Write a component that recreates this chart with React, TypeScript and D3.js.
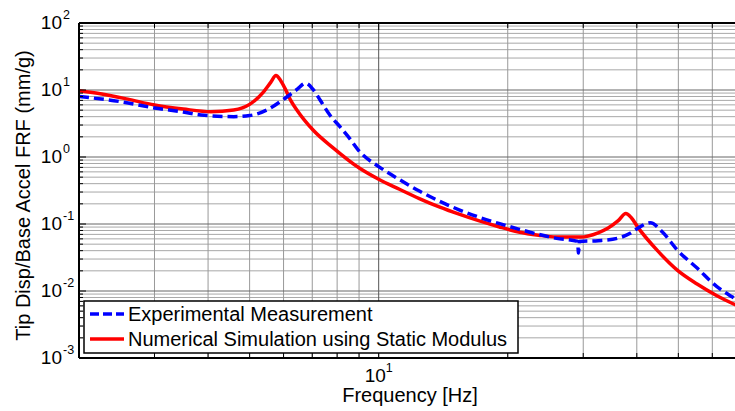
import React from "react";
import * as d3 from "d3";

// Experimental measurement (blue dashed)
const expFreq = [2.0, 2.5, 3.0, 3.5, 3.85, 4.59, 5.0, 5.51, 5.99, 6.46, 6.75, 7.03, 7.3, 7.7, 8.12, 8.5, 9.03, 10, 11.18, 12.44, 13.84, 15.4, 17.1, 19.06, 21.2, 23.6, 26, 29.1, 29.25, 29.4, 32.5, 36.1, 38.5, 40.2, 43.0, 45.9, 49.7, 55.3, 61.5, 66.7, 70];
const expValue = [8.0, 6.7, 5.39, 4.7, 4.24, 4.0, 4.15, 5.1, 7.2, 10.3, 12.6, 10.2, 7.09, 4.2, 2.84, 2.0, 1.2, 0.72, 0.46, 0.31, 0.22, 0.163, 0.127, 0.102, 0.084, 0.07, 0.061, 0.055, 0.037, 0.055, 0.0564, 0.0612, 0.072, 0.0863, 0.1045, 0.076, 0.041, 0.022, 0.0116, 0.0082, 0.0068];

// Numerical simulation using static modulus (red solid)
const simFreq = [2.0, 2.26, 2.6, 3.0, 3.5, 4.06, 4.59, 5.0, 5.39, 5.6, 5.76, 5.9, 6.05, 6.22, 6.45, 7.03, 7.83, 9.03, 10, 11.18, 12.44, 13.84, 15.4, 17.1, 19.06, 21.2, 23.6, 26, 29.6, 32.5, 34.3, 36.2, 37.7, 38.8, 40.2, 44.7, 49.7, 55.3, 61.5, 66.7, 70];
const simValue = [9.76, 8.72, 7.3, 5.97, 5.2, 4.74, 5.03, 6.1, 9.4, 13.0, 16.4, 14.0, 10.5, 7.2, 5.0, 2.53, 1.37, 0.678, 0.465, 0.33, 0.24, 0.18, 0.14, 0.112, 0.091, 0.076, 0.068, 0.064, 0.0639, 0.074, 0.0869, 0.112, 0.143, 0.125, 0.0898, 0.04, 0.0205, 0.0127, 0.0085, 0.00656, 0.0057];

const xMinorTicks = [2, 3, 4, 5, 6, 7, 8, 9, 10, 20, 30, 40, 50, 60, 70];
const yDecades = [-3, -2, -1, 0, 1, 2];
const xLabelTicks = [10];

const legendItems = ["Experimental Measurement", "Numerical Simulation using Static Modulus"];

const W = 735;
const H = 411;
const left = 79;
const right = 741;
const top = 23;
const bottom = 358;

const font = "'Liberation Sans', Arial, Helvetica, sans-serif";

export default function App() {
  const x = d3.scaleLog().domain([2, 70]).range([left, right]);
  const y = d3.scaleLog().domain([1e-3, 1e2]).range([bottom, top]);

  const yMinor: number[] = [];
  yDecades.slice(0, -1).forEach((e) => {
    for (let k = 2; k <= 9; k++) yMinor.push(k * Math.pow(10, e));
  });

  const line = d3
    .line<[number, number]>()
    .x((d) => x(d[0]))
    .y((d) => y(d[1]))
    .curve(d3.curveMonotoneX);

  const expPts = expFreq.map((f, i) => [f, expValue[i]] as [number, number]);
  const simPts = simFreq.map((f, i) => [f, simValue[i]] as [number, number]);

  return (
    <svg width={W} height={H} style={{ position: "absolute", left: 0, top: 0, background: "#fff" }}>
      <defs>
        <clipPath id="plot">
          <rect x={left} y={top} width={right - left} height={bottom - top} />
        </clipPath>
      </defs>

      {/* minor grid */}
      {yMinor.map((v) => (
        <line key={"ym" + v} x1={left} x2={right} y1={y(v)} y2={y(v)} stroke="#a8a8a8" strokeWidth={1} />
      ))}
      {xMinorTicks.map((v) => (
        <line key={"xm" + v} x1={x(v)} x2={x(v)} y1={top} y2={bottom} stroke={v === 10 ? "#555" : "#999"} strokeWidth={1} />
      ))}
      {yDecades.map((e) => (
        <line key={"yd" + e} x1={left} x2={right} y1={y(Math.pow(10, e))} y2={y(Math.pow(10, e))} stroke="#666" strokeWidth={1} />
      ))}

      {/* curves */}
      <g clipPath="url(#plot)">
        <path d={line(simPts) || ""} fill="none" stroke="#ff0000" strokeWidth={3.5} strokeLinejoin="round" />
        <path d={line(expPts) || ""} fill="none" stroke="#0000ff" strokeWidth={3.5} strokeDasharray="10,5" />
      </g>

      {/* ticks */}
      {xMinorTicks.map((v) => (
        <g key={"xt" + v}>
          <line x1={x(v)} x2={x(v)} y1={bottom} y2={bottom - (v === 10 ? 7 : 5)} stroke="#000" />
          <line x1={x(v)} x2={x(v)} y1={top} y2={top + (v === 10 ? 7 : 5)} stroke="#000" />
        </g>
      ))}
      {yMinor.map((v) => (
        <line key={"yt" + v} x1={left} x2={left + 4} y1={y(v)} y2={y(v)} stroke="#000" />
      ))}
      {yDecades.map((e) => (
        <line key={"ytd" + e} x1={left} x2={left + 7} y1={y(Math.pow(10, e))} y2={y(Math.pow(10, e))} stroke="#000" />
      ))}

      {/* axes frame */}
      <line x1={left} x2={right} y1={top} y2={top} stroke="#000" strokeWidth={2} />
      <line x1={left} x2={right} y1={bottom} y2={bottom} stroke="#000" strokeWidth={2} />
      <line x1={left} x2={left} y1={top} y2={bottom} stroke="#000" strokeWidth={2} />

      {/* y tick labels */}
      {yDecades.map((e) => (
        <text key={"yl" + e} x={62} y={y(Math.pow(10, e)) + 6} textAnchor="end" fontFamily={font} fontSize={19} fill="#000">
          10
          <tspan x={63} dy={-10} fontSize={12.5} textAnchor="start">{e}</tspan>
        </text>
      ))}

      {/* x tick labels */}
      {xLabelTicks.map((v) => (
        <text key={"xl" + v} x={x(v) - 14} y={382} fontFamily={font} fontSize={19} fill="#000">
          10
          <tspan dy={-10} fontSize={12.5}>1</tspan>
        </text>
      ))}

      {/* axis titles */}
      <text x={(left + right) / 2} y={402} textAnchor="middle" fontFamily={font} fontSize={20} fill="#000">
        Frequency [Hz]
      </text>
      <text
        transform={`translate(30,${(top + bottom) / 2 + 5}) rotate(-90)`}
        textAnchor="middle"
        fontFamily={font}
        fontSize={20}
        fill="#000"
      >
        Tip Disp/Base Accel FRF (mm/g)
      </text>

      {/* legend */}
      <rect x={84} y={301} width={434} height={52} fill="#fff" stroke="#000" strokeWidth={1.5} />
      {legendItems.map((label, i) => {
        const ly = 314 + i * 25;
        return (
          <g key={label}>
            <line
              x1={90}
              x2={124}
              y1={ly}
              y2={ly}
              stroke={i === 0 ? "#0000ff" : "#ff0000"}
              strokeWidth={3.5}
              strokeDasharray={i === 0 ? "9,4" : undefined}
            />
            <text x={128} y={ly + 6.5} fontFamily={font} fontSize={20} fill="#000">
              {label}
            </text>
          </g>
        );
      })}
    </svg>
  );
}
